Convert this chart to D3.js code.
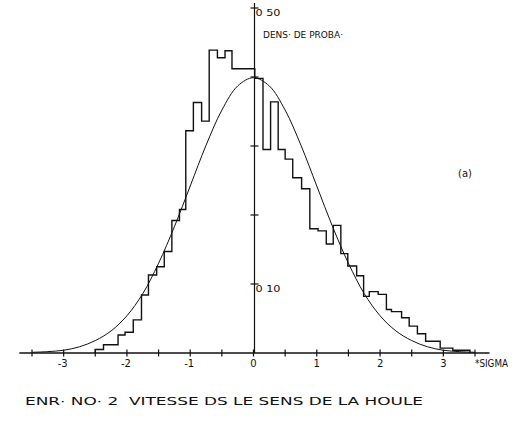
<html>
<head>
<meta charset="utf-8">
<script src="https://d3js.org/d3.v7.min.js"></script>
<style>
  body { margin: 0; background: #fff; }
  text { font-family: "DejaVu Sans", "Liberation Sans", sans-serif; fill: #111; white-space: pre; }
</style>
</head>
<body>
<svg width="529" height="421"></svg>
<script>
// histogram: bin edges (in sigma) and the density of each bin
const binEdges = [-2.50, -2.37, -2.14, -2.03, -1.90, -1.77, -1.66, -1.53, -1.41, -1.29, -1.17, -1.07,
  -0.95, -0.82, -0.70, -0.57, -0.45, -0.34, 0.02, 0.15, 0.27, 0.39, 0.50, 0.62, 0.76, 0.89,
  1.02, 1.15, 1.26, 1.38, 1.49, 1.63, 1.74, 1.83, 1.97, 2.10, 2.18, 2.34, 2.46, 2.59, 2.72,
  2.95, 3.15, 3.42];
const binDensity = [0.005, 0.012, 0.026, 0.030, 0.048, 0.084, 0.113, 0.125, 0.147, 0.192, 0.208,
  0.322, 0.363, 0.336, 0.439, 0.428, 0.438, 0.412, 0.398, 0.295, 0.364, 0.295, 0.281, 0.254,
  0.238, 0.180, 0.177, 0.158, 0.185, 0.144, 0.126, 0.112, 0.082, 0.089, 0.085, 0.063, 0.060,
  0.051, 0.039, 0.028, 0.017, 0.007, 0.004];

// gaussian reference curve
const curveSigma = [-3.5, -3.25, -3, -2.75, -2.5, -2.25, -2, -1.75, -1.5, -1.25, -1, -0.75, -0.5, -0.25, 0,
  0.25, 0.5, 0.75, 1, 1.25, 1.5, 1.75, 2, 2.25, 2.5, 2.75, 3, 3.25, 3.5];
const curveDensity = [0.001, 0.002, 0.004, 0.009, 0.018, 0.032, 0.054, 0.086, 0.130, 0.183, 0.242, 0.301, 0.352, 0.387, 0.399,
  0.387, 0.352, 0.301, 0.242, 0.183, 0.130, 0.086, 0.054, 0.032, 0.018, 0.009, 0.004, 0.002, 0.001];

const xTicks = [-3.5, -3, -2.5, -2, -1.5, -1, -0.5, 0, 0.5, 1, 1.5, 2, 2.5, 3, 3.5];
const xLabels = [-3, -2, -1, 0, 1, 2, 3];
const yTicks = [0.1, 0.2, 0.3, 0.4, 0.5];
const yLabels = [0.5, 0.1];

const svg = d3.select("svg");
const x = d3.scaleLinear().domain([-3.5, 3.5]).range([32, 475]);
const y = d3.scaleLinear().domain([0, 0.5]).range([353, 8]);
const ink = "#111";

// x axis
svg.append("line").attr("x1", x(-3.7)).attr("x2", x(3.73)).attr("y1", y(0)).attr("y2", y(0))
  .attr("stroke", ink).attr("stroke-width", 1.3);
svg.selectAll(".xt").data(xTicks).enter().append("line")
  .attr("x1", d => x(d)).attr("x2", d => x(d)).attr("y1", y(0) - 3.5).attr("y2", y(0) + 3.5)
  .attr("stroke", ink).attr("stroke-width", 1.2);
svg.selectAll(".xl").data(xLabels).enter().append("text")
  .attr("x", d => x(d) + (d < 0 ? -1 : 0)).attr("y", 367)
  .attr("text-anchor", "middle").style("font-size", "10px")
  .text(d => d);
svg.append("text").attr("x", 475).attr("y", 367).style("font-size", "10px")
  .attr("textLength", 33).attr("lengthAdjust", "spacingAndGlyphs").text("*SIGMA");

// y axis
svg.append("line").attr("x1", x(0) + 1).attr("x2", x(0) + 1).attr("y1", 3).attr("y2", y(0))
  .attr("stroke", ink).attr("stroke-width", 1.2);
svg.selectAll(".yt").data(yTicks).enter().append("line")
  .attr("x1", x(0) - 3).attr("x2", x(0) + 5).attr("y1", d => y(d)).attr("y2", d => y(d))
  .attr("stroke", ink).attr("stroke-width", 1.2);
svg.selectAll(".yl").data(yLabels).enter().append("text")
  .attr("x", x(0) + 2).attr("y", d => y(d) + 8)
  .style("font-size", "8px").attr("textLength", 25).attr("lengthAdjust", "spacingAndGlyphs")
  .text(d => d3.format(".2f")(d).replace(".", " "));
svg.append("text").attr("x", 263).attr("y", 38).style("font-size", "8px")
  .attr("textLength", 80).attr("lengthAdjust", "spacingAndGlyphs").text("DENS· DE PROBA·");

// histogram as a step outline
const pts = [[binEdges[0], 0]];
binDensity.forEach((d, i) => { pts.push([binEdges[i], d]); pts.push([binEdges[i + 1], d]); });
pts.push([binEdges[binEdges.length - 1], 0]);
svg.append("path").datum(pts)
  .attr("d", d3.line().x(d => x(d[0])).y(d => y(d[1])))
  .attr("fill", "none").attr("stroke", ink).attr("stroke-width", 1.4);

// gaussian curve
svg.append("path").datum(curveSigma.map((s, i) => [s, curveDensity[i]]))
  .attr("d", d3.line().x(d => x(d[0])).y(d => y(d[1])).curve(d3.curveCatmullRom))
  .attr("fill", "none").attr("stroke", ink).attr("stroke-width", 1);

svg.append("text").attr("x", 458).attr("y", 177).style("font-size", "10px").text("(a)");

svg.append("text").attr("x", 25).attr("y", 405).style("font-size", "11px")
  .attr("textLength", 398).attr("lengthAdjust", "spacingAndGlyphs")
  .text("ENR· NO· 2  VITESSE DS LE SENS DE LA HOULE");
</script>
</body>
</html>
